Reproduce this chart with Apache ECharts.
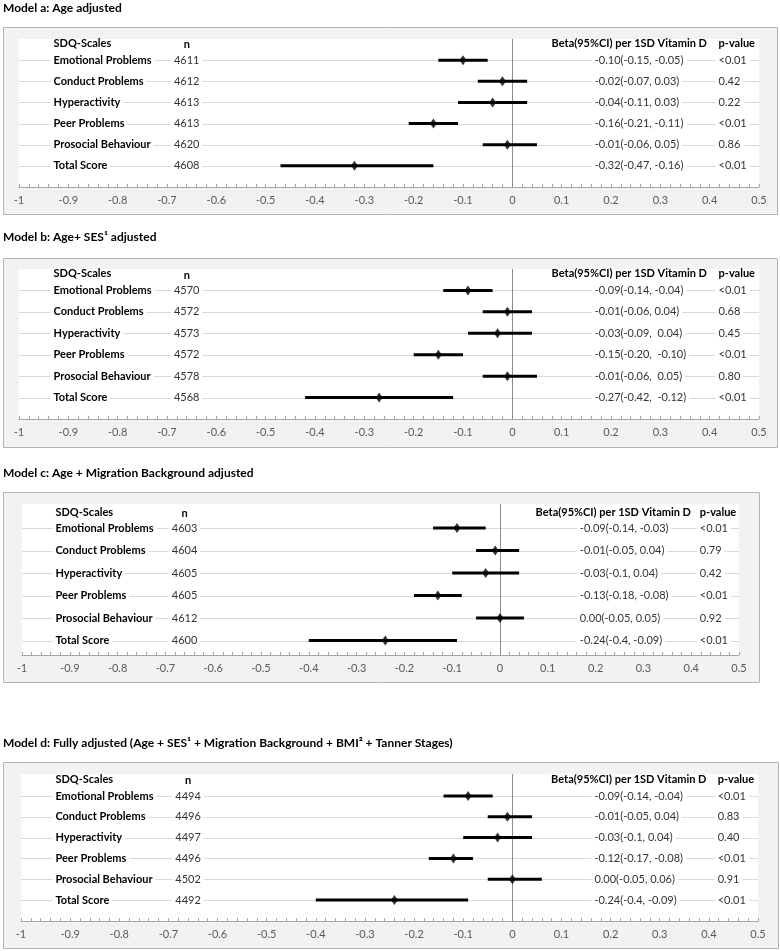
<!DOCTYPE html>
<html>
<head>
<meta charset="utf-8">
<script src="https://cdn.jsdelivr.net/npm/echarts@6/dist/echarts.min.js"></script>
<style>
html,body{margin:0;padding:0;background:#fff;}
#chart{width:780px;height:951px;}
</style>
</head>
<body>
<div id="chart"></div>
<script>
// ---------- data ----------
const categories = ["Emotional Problems", "Conduct Problems", "Hyperactivity", "Peer Problems", "Prosocial Behaviour", "Total Score"];
const xTicks = [-1, -0.9, -0.8, -0.7, -0.6, -0.5, -0.4, -0.3, -0.2, -0.1, 0, 0.1, 0.2, 0.3, 0.4, 0.5];

const titleA = "Model a: Age adjusted";
const nA    = [4611, 4612, 4613, 4613, 4620, 4608];
const betaA = [-0.10, -0.02, -0.04, -0.16, -0.01, -0.32];
const lowA  = [-0.15, -0.07, -0.11, -0.21, -0.06, -0.47];
const highA = [-0.05, 0.03, 0.03, -0.11, 0.05, -0.16];
const ciA   = ["-0.10(-0.15, -0.05)", "-0.02(-0.07, 0.03)", "-0.04(-0.11, 0.03)", "-0.16(-0.21, -0.11)", "-0.01(-0.06, 0.05)", "-0.32(-0.47, -0.16)"];
const pA    = ["<0.01", "0.42", "0.22", "<0.01", "0.86", "<0.01"];

const titleB = "Model b: Age+ SES\u00b9 adjusted";
const nB    = [4570, 4572, 4573, 4572, 4578, 4568];
const betaB = [-0.09, -0.01, -0.03, -0.15, -0.01, -0.27];
const lowB  = [-0.14, -0.06, -0.09, -0.20, -0.06, -0.42];
const highB = [-0.04, 0.04, 0.04, -0.10, 0.05, -0.12];
const ciB   = ["-0.09(-0.14, -0.04)", "-0.01(-0.06, 0.04)", "-0.03(-0.09,  0.04)", "-0.15(-0.20,  -0.10)", "-0.01(-0.06,  0.05)", "-0.27(-0.42,  -0.12)"];
const pB    = ["<0.01", "0.68", "0.45", "<0.01", "0.80", "<0.01"];

const titleC = "Model c: Age + Migration Background adjusted";
const nC    = [4603, 4604, 4605, 4605, 4612, 4600];
const betaC = [-0.09, -0.01, -0.03, -0.13, 0.00, -0.24];
const lowC  = [-0.14, -0.05, -0.10, -0.18, -0.05, -0.40];
const highC = [-0.03, 0.04, 0.04, -0.08, 0.05, -0.09];
const ciC   = ["-0.09(-0.14, -0.03)", "-0.01(-0.05, 0.04)", "-0.03(-0.1, 0.04)", "-0.13(-0.18, -0.08)", "0.00(-0.05, 0.05)", "-0.24(-0.4, -0.09)"];
const pC    = ["<0.01", "0.79", "0.42", "<0.01", "0.92", "<0.01"];

const titleD = "Model d: Fully adjusted (Age + SES\u00b9 + Migration Background + BMI\u00b2 + Tanner Stages)";
const nD    = [4494, 4496, 4497, 4496, 4502, 4492];
const betaD = [-0.09, -0.01, -0.03, -0.12, 0.00, -0.24];
const lowD  = [-0.14, -0.05, -0.10, -0.17, -0.05, -0.40];
const highD = [-0.04, 0.04, 0.04, -0.08, 0.06, -0.09];
const ciD   = ["-0.09(-0.14, -0.04)", "-0.01(-0.05, 0.04)", "-0.03(-0.1, 0.04)", "-0.12(-0.17, -0.08)", "0.00(-0.05, 0.06)", "-0.24(-0.4, -0.09)"];
const pD    = ["<0.01", "0.83", "0.40", "<0.01", "0.91", "<0.01"];

const headerScale = "SDQ-Scales";
const headerN = "n";
const headerBeta = "Beta(95%CI) per 1SD Vitamin D";
const headerP = "p-value";

// ---------- layout ----------
const FONT = "Lato";
const layouts = [
  {box:[3,27,774,187],  titleY:8,   grid:{left:19, top:39,  width:740, height:148}, yMin:0,     yMax:7,    hdrY:0.19},
  {box:[3,258,774,189], titleY:237, grid:{left:19, top:269, width:740, height:150}, yMin:0,     yMax:7,    hdrY:0.23},
  {box:[3,492,756,190], titleY:473, grid:{left:22, top:504, width:717, height:151}, yMin:-0.07, yMax:6.64, hdrY:0.29},
  {box:[3,762,775,186], titleY:743, grid:{left:21, top:774, width:737, height:147}, yMin:-0.06, yMax:7.01, hdrY:0.18}
];
const panels = [
  {title:titleA, n:nA, beta:betaA, low:lowA, high:highA, ci:ciA, p:pA},
  {title:titleB, n:nB, beta:betaB, low:lowB, high:highB, ci:ciB, p:pB},
  {title:titleC, n:nC, beta:betaC, low:lowC, high:highC, ci:ciC, p:pC},
  {title:titleD, n:nD, beta:betaD, low:lowD, high:highD, ci:ciD, p:pD}
];
const colX = {name:-0.93, n:-0.66, ci:0.167, beta:0.237, p:0.418};

const rows = categories.map((c, i) => i + 1);

function textSeries(gi, xVal, yVals, texts, opts) {
  return {
    type:'custom', xAxisIndex:gi, yAxisIndex:gi, silent:true, z:opts.z || 4,
    data: texts.map((t, i) => [xVal, yVals[i]]),
    renderItem: function (params, api) {
      const pt = api.coord([api.value(0), api.value(1)]);
      const pad = opts.bg ? 3 : 0;
      return {
        type:'text',
        x: pt[0] - (opts.align === 'left' ? pad : 0),
        y: pt[1],
        style: {
          text: String(texts[params.dataIndex]),
          font: opts.font,
          fill: opts.color || '#262626',
          align: opts.align,
          verticalAlign: 'middle',
          backgroundColor: opts.bg || null,
          padding: opts.bg ? [1, pad] : 0
        }
      };
    }
  };
}

const grids = [], xAxes = [], yAxes = [], series = [], graphics = [];
panels.forEach((pn, gi) => {
  const L = layouts[gi];
  graphics.push({type:'rect', shape:{x:L.box[0]+0.5, y:L.box[1]+0.5, width:L.box[2], height:L.box[3]},
    style:{fill:'#f2f2f2', stroke:'#b4b4b4', lineWidth:1}, z:-10});
  graphics.push({type:'text', x:3, y:L.titleY, style:{text:pn.title, font:'bold 12px ' + FONT, fill:'#000', verticalAlign:'middle'}});
  grids.push(Object.assign({show:true, backgroundColor:'#ffffff', borderWidth:0, containLabel:false}, L.grid));
  xAxes.push({
    type:'value', gridIndex:gi, min:xTicks[0], max:xTicks[xTicks.length-1], interval:0.1,
    axisLine:{show:true, onZero:false, lineStyle:{color:'#a6a6a6', width:1}},
    axisTick:{show:true, inside:true, length:3, lineStyle:{color:'#a6a6a6'}},
    minorTick:{show:true, splitNumber:5, length:3, lineStyle:{color:'#a6a6a6'}},
    splitLine:{show:false},
    axisLabel:{color:'#595959', fontFamily:FONT, fontSize:11, margin:8,
      formatter: v => { const r = Math.round(v*10)/10; return String(r); }}
  });
  yAxes.push({type:'value', gridIndex:gi, min:L.yMin, max:L.yMax, inverse:true, show:false});

  // row gridlines
  series.push({
    type:'custom', xAxisIndex:gi, yAxisIndex:gi, silent:true, z:1,
    data: rows.map(r => [xTicks[0], r]),
    renderItem: function (params, api) {
      const a = api.coord([xTicks[0], api.value(1)]);
      const b = api.coord([xTicks[xTicks.length-1], api.value(1)]);
      return {type:'line', shape:{x1:a[0], y1:Math.round(a[1])+0.5, x2:b[0], y2:Math.round(b[1])+0.5},
        style:{stroke:'#d9d9d9', lineWidth:1}};
    },
    markLine:{silent:true, symbol:'none', label:{show:false},
      lineStyle:{color:'#8c8c8c', width:1, type:'solid'}, data:[{xAxis:0}]}
  });

  // text columns
  series.push(textSeries(gi, colX.name, rows, categories, {font:'bold 11px ' + FONT, align:'left', bg:'#ffffff', color:'#000'}));
  series.push(textSeries(gi, colX.n, rows, pn.n, {font:'11px ' + FONT, align:'center', bg:'#ffffff', color:'#333'}));
  series.push(textSeries(gi, colX.ci, rows, pn.ci, {font:'11px ' + FONT, align:'left', bg:'#ffffff', color:'#333'}));
  series.push(textSeries(gi, colX.p, rows, pn.p, {font:'11px ' + FONT, align:'left', bg:'#ffffff', color:'#333'}));
  // headers
  series.push(textSeries(gi, colX.name, [L.hdrY], [headerScale], {font:'bold 11px ' + FONT, align:'left', color:'#000'}));
  series.push(textSeries(gi, colX.n, [L.hdrY + 0.05], [headerN], {font:'bold 11px ' + FONT, align:'center', color:'#000'}));
  series.push(textSeries(gi, colX.beta, [L.hdrY], [headerBeta], {font:'bold 11px ' + FONT, align:'center', color:'#000'}));
  series.push(textSeries(gi, colX.p, [L.hdrY], [headerP], {font:'bold 11px ' + FONT, align:'left', color:'#000'}));

  // CI bars
  series.push({
    type:'custom', xAxisIndex:gi, yAxisIndex:gi, silent:true, z:5,
    data: rows.map((r, i) => [pn.low[i], pn.high[i], r]),
    renderItem: function (params, api) {
      const a = api.coord([api.value(0), api.value(2)]);
      const b = api.coord([api.value(1), api.value(2)]);
      return {type:'line', shape:{x1:a[0], y1:a[1], x2:b[0], y2:b[1]}, style:{stroke:'#000', lineWidth:3}};
    }
  });
  // point estimates
  series.push({
    type:'scatter', xAxisIndex:gi, yAxisIndex:gi, silent:true, z:6,
    symbol:'diamond', symbolSize:[7,10], itemStyle:{color:'#000'},
    data: rows.map((r, i) => [pn.beta[i], r])
  });
});

const chart = echarts.init(document.getElementById('chart'), null, {renderer:'canvas'});
chart.setOption({
  animation:false,
  backgroundColor:'#ffffff',
  grid:grids, xAxis:xAxes, yAxis:yAxes, series:series, graphic:graphics
});
</script>
</body>
</html>
